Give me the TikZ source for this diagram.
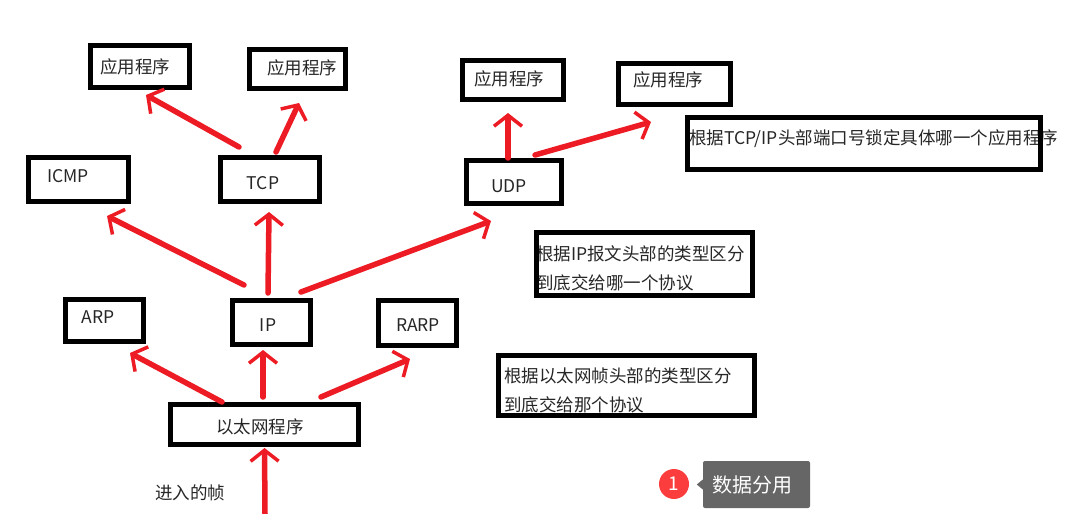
\documentclass[tikz,border=0pt]{standalone}
\usepackage{fontspec}
\setmainfont{Noto Sans CJK SC}
\usetikzlibrary{arrows.meta}
\definecolor{penred}{HTML}{ED1C24}
\definecolor{inkgray}{HTML}{262626}
\definecolor{tipgray}{HTML}{666666}
\definecolor{badgered}{HTML}{FC3D3D}
\tikzset{
  netbox/.style={draw=black,line width=5pt,inner sep=0pt},
  lbl/.style={inner sep=0pt,text=inkgray,font=\fontsize{17.5}{29}\selectfont},
  redarrow/.style={draw=penred,line width=5.5pt,line cap=round,
    -{Straight Barb[length=11pt,width=28pt,line width=3.5pt]}}
}
\begin{document}
\begin{tikzpicture}[x=1pt,y=-1pt]
\useasboundingbox (0,0) rectangle (1074,514);

% labels first, the frames lie on top of them
\node[lbl] (tapp1) at (135,67) {应用程序};
\node[lbl] (tapp2) at (302,68) {应用程序};
\node[lbl] (tapp3) at (509,79) {应用程序};
\node[lbl] (tapp4) at (668,80) {应用程序};
\node[lbl] (ticmp) at (68,176) {ICMP};
\node[lbl] (ttcp) at (263,183) {TCP};
\node[lbl] (tudp) at (509,186) {UDP};
\node[lbl] (tarp) at (98,317) {ARP};
\node[lbl] (tip) at (268,325) {IP};
\node[lbl] (trarp) at (418,325) {RARP};
\node[lbl] (teth) at (260,427) {以太网程序};
\node[lbl] (tframe) at (190,493) {进入的帧};
\node[lbl,anchor=west] (tnote1) at (689,139) {根据TCP/IP头部端口号锁定具体哪一个应用程序};
\node[lbl,anchor=west,align=left] (tnote2) at (536,268.5) {根据IP报文头部的类型区分\\到底交给哪一个协议};
\node[lbl,anchor=west,align=left] (tnote3) at (504,390) {根据以太网帧头部的类型区分\\到底交给那个协议};

% frames
\node[netbox,minimum width=99,minimum height=42] (app1) at (140,66.5) {};
\node[netbox,minimum width=96,minimum height=39] (app2) at (297.5,69) {};
\node[netbox,minimum width=101,minimum height=39] (app3) at (513,80) {};
\node[netbox,minimum width=112,minimum height=41] (app4) at (674.5,84) {};
\node[netbox,minimum width=100,minimum height=44] (icmp) at (78.5,179.5) {};
\node[netbox,minimum width=99,minimum height=44] (tcp) at (270,179.5) {};
\node[netbox,minimum width=95,minimum height=43] (udp) at (514,182) {};
\node[netbox,minimum width=78,minimum height=42] (arp) at (104.5,320.5) {};
\node[netbox,minimum width=78,minimum height=44] (ip) at (271.5,322.5) {};
\node[netbox,minimum width=78,minimum height=45] (rarp) at (417.5,323) {};
\node[netbox,minimum width=188,minimum height=40] (eth) at (264.5,424.5) {};
\node[netbox,minimum width=353,minimum height=52] (note1) at (864,143.5) {};
\node[netbox,minimum width=216,minimum height=63] (note2) at (644.5,264) {};
\node[netbox,minimum width=256,minimum height=60] (note3) at (626.5,385) {};

\coordinate (in) at (265,514);

% red hand drawn arrows
\draw[redarrow] (in) -- ([yshift=-1]eth.south);
\draw[redarrow] ([xshift=-42.5]eth.north) -- ([xshift=25.5,yshift=-9]arp.south);
\draw[redarrow] ([xshift=-1.5,yshift=5]eth.north) -- ([xshift=-8.5,yshift=-3]ip.south);
\draw[redarrow] ([xshift=56.5,yshift=5]eth.north) -- ([xshift=-7.5,yshift=-11]rarp.south);
\draw[redarrow] ([xshift=-27.5,yshift=13]ip.north) -- ([xshift=28.5,yshift=-12]icmp.south);
\draw[redarrow] ([xshift=-3.5,yshift=5]ip.north) -- ([xshift=-1,yshift=-8]tcp.south);
\draw[redarrow] ([xshift=29.5,yshift=6]ip.north) -- ([xshift=-23,yshift=-15]udp.south);
\draw[redarrow] ([xshift=-31,yshift=8]tcp.north) -- ([xshift=6,yshift=-5]app1.south);
\draw[redarrow] ([xshift=6,yshift=3]tcp.north) -- ([xshift=1.5,yshift=-12]app2.south);
\draw[redarrow] ([xshift=-6]udp.north) -- ([xshift=-5,yshift=-11]app3.south);
\draw[redarrow] ([xshift=21,yshift=3]udp.north) -- ([xshift=-23.5,yshift=-15]app4.south);

% badge and tooltip
\node[circle,fill=badgered,text=white,minimum size=30,inner sep=0pt,font=\fontsize{19}{22}\selectfont] (badge) at (674,484) {1};
\node[fill=tipgray,rounded corners=2,text=white,text width=89,align=left,minimum height=47,inner xsep=9,inner ysep=0pt,font=\fontsize{20}{24}\selectfont] (tooltip) at (756.5,484.5) {数据分用};
\fill[tipgray] ([yshift=5]tooltip.west) -- ([xshift=-6]tooltip.west) -- ([yshift=-5]tooltip.west) -- cycle;
\end{tikzpicture}
\end{document}
